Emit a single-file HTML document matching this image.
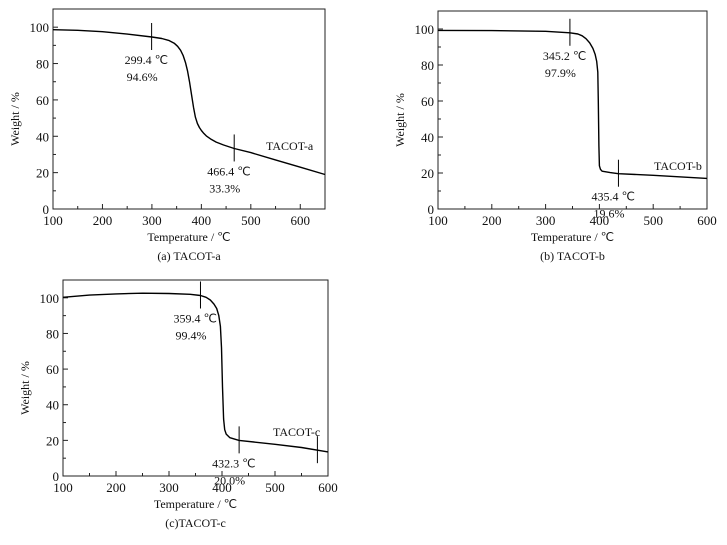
<!DOCTYPE html>
<html><head><meta charset="utf-8"><style>
body{margin:0;background:#fff;width:727px;height:540px;overflow:hidden}
svg text{font-family:"Liberation Serif",serif;fill:#111}
</style></head><body>
<svg id="s" width="727" height="540"></svg>
<script>
const tempsA=[100,150,200,250,300,320,335,345,352,358,363,368,372,376,380,384,388,392,396,400,405,410,420,430,445,466.4,500,550,600,650];
const weightA=[98.6,98.3,97.5,96.2,94.6,93.8,92.6,91.2,89.5,87.3,84.5,80.5,76,70,63,56,50.5,47,44.8,43.2,41.6,40.2,38.3,36.8,35.2,33.3,31,27,23,19];
const tempsB=[100,200,300,345.2,360,368,375,382,388,392,395,397,398,399,400,402,405,420,435.4,500,600];
const weightB=[99.2,99.1,98.7,97.9,97.2,96.2,94.6,92.3,89.2,86,82,76,60,35,24,22,21,20.2,19.6,18.7,17];
const tempsC=[100,150,200,250,300,340,359.4,370,378,385,390,394,397,399,401,403,405,408,415,432.3,500,550,600];
const weightC=[100.3,101.5,102.2,102.6,102.4,102.0,101.3,100.3,98.8,96.5,94,90,84,72,50,32,26,23.5,21.5,20.0,17.8,16,13.5];
const xTicksA=[100,200,300,400,500,600];
const xTicksBC=[100,200,300,400,500,600];
const yTicks=[0,20,40,60,80,100];
const marksA=[[299.4,94.6,"299.4 ℃","94.6%"],[466.4,33.3,"466.4 ℃","33.3%"]];
const marksB=[[345.2,97.9,"345.2  ℃","97.9%"],[435.4,19.6,"435.4 ℃","19.6%"]];
const marksC=[[359.4,101.3,"359.4 ℃","99.4%"],[432.3,20.0,"432.3 ℃","20.0%"],[580,14.5,"",""]];
const NS="http://www.w3.org/2000/svg";
const svg=document.getElementById('s');
function el(tag,attrs,parent){const e=document.createElementNS(NS,tag);for(const k in attrs)e.setAttribute(k,attrs[k]);(parent||svg).appendChild(e);return e;}
function chart(cfg){
 const g=el('g',{});
 
 
 const X=v=>cfg.l+(v-cfg.x0)/(cfg.x1-cfg.x0)*(cfg.r-cfg.l);
 const Y=v=>cfg.b-v/110*(cfg.b-cfg.t);
 const fr=el('rect',{x:cfg.l,y:cfg.t,width:cfg.r-cfg.l,height:cfg.b-cfg.t,fill:'none',stroke:'#222','stroke-width':1},g);
 
 
 for(let v=cfg.x0;v<=cfg.x1;v+=50){const big=(v%100===0);el('line',{x1:X(v),x2:X(v),y1:cfg.b,y2:cfg.b-(big?5:3),stroke:'#222'},g);}
 cfg.xt.forEach(v=>{const t=el('text',{x:X(v),y:cfg.b+16,'font-size':13,'text-anchor':'middle'},g);t.textContent=v;
  
  });
 for(let v=0;v<=110;v+=10){const big=(v%20===0);el('line',{x1:cfg.l,x2:cfg.l+(big?5:3),y1:Y(v),y2:Y(v),stroke:'#222'},g);}
 yTicks.forEach(v=>{const t=el('text',{x:cfg.l-4,y:Y(v)+5,'font-size':13,'text-anchor':'end'},g);t.textContent=v;
  
  });
 const pts=cfg.xs.map((x,i)=>X(x).toFixed(1)+','+Y(cfg.ys[i]).toFixed(1)).join(' ');
 const pl=el('polyline',{points:pts,fill:'none',stroke:'#000','stroke-width':1.4,'stroke-linejoin':'round'},g);
 
 
 cfg.marks.forEach(m=>{const mx=X(m[0]),my=Y(m[1]);
  const ln=el('line',{x1:mx,x2:mx,y1:my-14,y2:my+13,stroke:'#000','stroke-width':1},g);
  
  
  if(m[2]){const t1=el('text',{x:mx-27,y:my+27,'font-size':12},g);t1.textContent=m[2];
   
   
   const t2=el('text',{x:mx-25,y:my+44,'font-size':12},g);t2.textContent=m[3];
   
   }
 });
 const sl=el('text',{x:cfg.sx,y:cfg.sy,'font-size':12},g);sl.textContent=cfg.series;
 
 
 const xt=el('text',{x:(cfg.l+cfg.r)/2,y:cfg.b+32,'font-size':12,'text-anchor':'middle'},g);xt.textContent='Temperature /  ℃';
 
 
 const yt=el('text',{x:0,y:0,'font-size':12,'text-anchor':'middle',transform:`translate(${cfg.l-34},${(cfg.t+cfg.b)/2+10}) rotate(-90)`},g);yt.textContent='Weight / %';
 
 
 const cp=el('text',{x:(cfg.l+cfg.r)/2,y:cfg.b+51,'font-size':12,'text-anchor':'middle'},g);cp.textContent=cfg.caption;
 
 
}
chart({name:'chart-tacot-a',l:53,r:325,t:9,b:209,x0:100,x1:650,xt:xTicksA,xs:tempsA,ys:weightA,marks:marksA,series:'TACOT-a',sx:266,sy:150,caption:'(a) TACOT-a'});
chart({name:'chart-tacot-b',l:438,r:707,t:11,b:209,x0:100,x1:600,xt:xTicksBC,xs:tempsB,ys:weightB,marks:marksB,series:'TACOT-b',sx:654,sy:170,caption:'(b) TACOT-b'});
chart({name:'chart-tacot-c',l:63,r:328,t:280,b:476,x0:100,x1:600,xt:xTicksBC,xs:tempsC,ys:weightC,marks:marksC,series:'TACOT-c',sx:273,sy:436,caption:'(c)TACOT-c'});
</script>
</body></html>
